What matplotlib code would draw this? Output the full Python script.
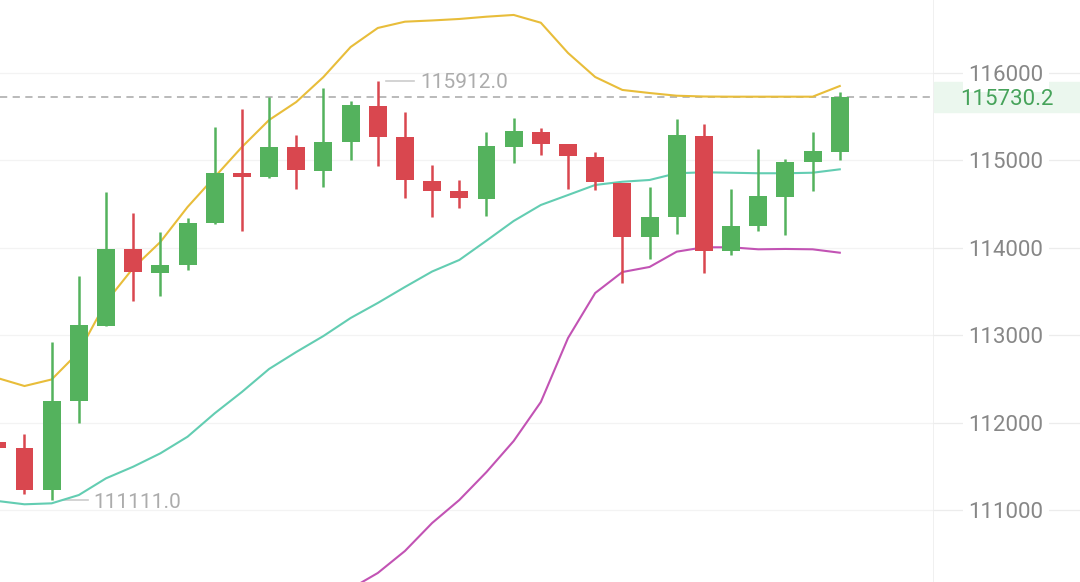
import matplotlib.pyplot as plt
from matplotlib.patches import Rectangle

plt.rcParams['font.family'] = ['Roboto', 'DejaVu Sans']

# candle index (first one is cut off at the left edge)
idx = list(range(-1, 31))

opens = [111779, 111710, 111230, 112251, 113106, 113983, 113715, 113804, 114281, 114853,
         114807, 115150, 114882, 115207, 115626, 115264, 114764, 114647, 114559, 115157,
         115328, 115184, 115042, 114738, 114120, 114349, 115283, 113967, 114250, 114585,
         114978, 115100]
highs = [111800, 111870, 112920, 113681, 114642, 114395, 114178, 114338, 115386, 115585,
         115729, 115287, 115832, 115683, 115912, 115557, 114948, 114776, 115322, 115489,
         115367, 115190, 115093, 114745, 114699, 115474, 115413, 114673, 115131, 115013,
         115322, 115786]
lows = [111690, 111184, 111111, 111996, 113100, 113395, 113452, 113746, 114270, 114196,
        114800, 114670, 114699, 115005, 114936, 114567, 114356, 114452, 114364, 114967,
        115062, 114673, 114662, 113594, 113869, 114158, 113715, 113918, 114196, 114147,
        114650, 115005]
closes = [111710, 111230, 112251, 113114, 113990, 113723, 113807, 114287, 114859, 114814,
          115157, 114890, 115214, 115634, 115271, 114773, 114654, 114567, 115165, 115340,
          115188, 115050, 114753, 114127, 114356, 115291, 113967, 114253, 114593, 114985,
          115108, 115730.2]

# bollinger bands
boll_up = [112511, 112419, 112494, 112808, 113380, 113769, 114067, 114467, 114810, 115153,
           115462, 115668, 115954, 116297, 116515, 116587, 116601, 116618, 116644, 116664,
           116575, 116229, 115954, 115806, 115771, 115740, 115731, 115729, 115729, 115729,
           115729, 115851]
boll_mid = [111104, 111066, 111077, 111172, 111363, 111496, 111649, 111839, 112107, 112351,
            112614, 112808, 112991, 113197, 113369, 113552, 113729, 113861, 114082, 114307,
            114490, 114604, 114719, 114756, 114776, 114853, 114864, 114859, 114853, 114853,
            114859, 114898]
nan = float('nan')
boll_low = [nan, nan, nan, nan, nan, nan, nan, nan, nan, nan,
            nan, nan, nan, 110100, 110280, 110532, 110852, 111115, 111435, 111790,
            112236, 112968, 113483, 113723, 113781, 113956, 114006, 114006, 113983, 113987,
            113983, 113944]

y_ticks = [111000, 112000, 113000, 114000, 115000, 116000]
last_price = 115730.2
hi_label, hi_idx = 115912.0, 13
lo_label, lo_idx = 111111.0, 1

GREEN = '#54b25d'
RED = '#d9474f'
YMIN, YMAX = 110177, 116835

fig = plt.figure(figsize=(10.8, 5.82), dpi=100)
ax = fig.add_axes([0, 0, 933 / 1080, 1])
ax2 = fig.add_axes([933 / 1080, 0, 147 / 1080, 1])

for a in (ax, ax2):
    a.set_ylim(YMIN, YMAX)
    a.set_xticks([])
    a.set_yticks([])
    for s in a.spines.values():
        s.set_visible(False)

ax.set_xlim(-0.901, 33.43)

# grid
for t in y_ticks:
    ax.axhline(t, color='#f3f3f3', lw=0.9, zorder=0)
    ax2.axhline(t, color='#ececec', lw=0.9, zorder=0)

# bands
ax.plot(idx, boll_up, color='#e8bd3a', lw=1.5, zorder=3)
ax.plot(idx, boll_mid, color='#63cdb2', lw=1.5, zorder=3)
ax.plot(idx, boll_low, color='#c253b4', lw=1.5, zorder=3)

# candles
for i, o, h, l, c in zip(idx, opens, highs, lows, closes):
    col = GREEN if c >= o else RED
    ax.vlines(i, l, h, color=col, lw=1.8, zorder=4)
    ax.add_patch(Rectangle((i - 0.33, min(o, c)), 0.66, max(abs(c - o), 25),
                           facecolor=col, edgecolor='none', zorder=5))

# last price dashed line
ax.axhline(last_price, color='#b4b4b4', lw=1.3, ls=(0, (4, 3)), zorder=2)

# high / low markers
ax.plot([hi_idx + 0.3, hi_idx + 1.35], [hi_label, hi_label], color='#cccccc', lw=1.2)
ax.text(hi_idx + 1.55, hi_label, f'{hi_label:.1f}', color='#acacac', fontsize=15,
        va='center_baseline', ha='left')
ax.plot([lo_idx + 0.4, lo_idx + 1.35], [lo_label, lo_label], color='#cccccc', lw=1.2)
ax.text(lo_idx + 1.55, lo_label, f'{lo_label:.1f}', color='#acacac', fontsize=15,
        va='center_baseline', ha='left')

# right price axis
ax2.set_xlim(0, 1)
ax2.axvline(0, color='#eeeeee', lw=1.2)
for t in y_ticks:
    ax2.text(0.495, t, str(t), color='#878787', fontsize=16, ha='center',
             va='center_baseline',
             bbox=dict(facecolor='white', edgecolor='none', pad=4))
ax2.axhspan(last_price - 171, last_price + 171, xmin=0.01, color='#ebf7ee', zorder=1)
ax2.text(0.5, last_price, f'{last_price:.1f}', color='#46a35a', fontsize=16,
         ha='center', va='center_baseline', zorder=6)

fig.savefig('out.png', dpi=100)
